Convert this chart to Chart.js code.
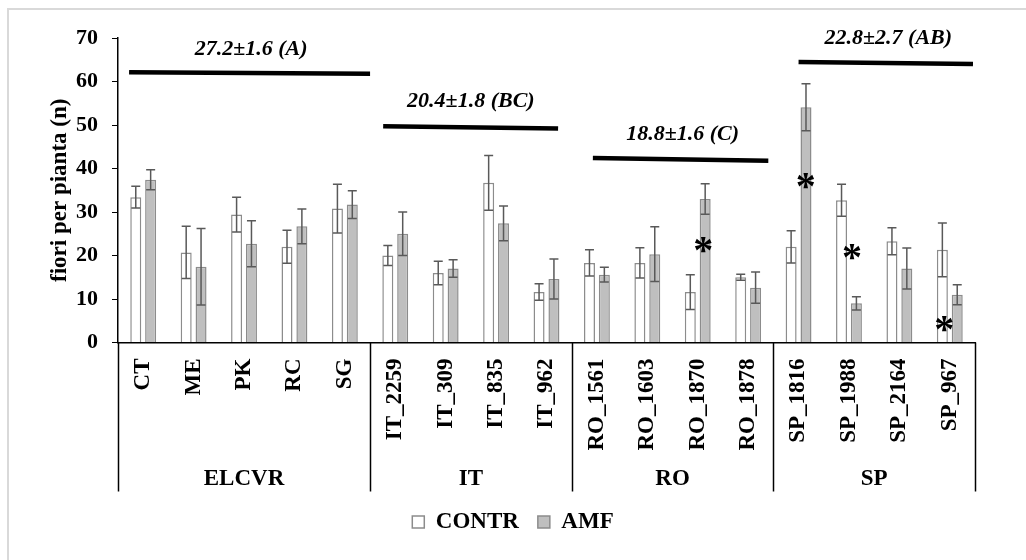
<!DOCTYPE html>
<html>
<head>
<meta charset="utf-8">
<script src="https://cdn.jsdelivr.net/npm/chart.js@4.4.1/dist/chart.umd.min.js"></script>
<style>
  body { margin: 0; background: #fff; }
  #wrap { width: 1026px; height: 560px; }
</style>
</head>
<body>
<div id="wrap"><canvas id="chart" width="1026" height="560"></canvas></div>
<script>
const categories = ['CT', 'ME', 'PK', 'RC', 'SG', 'IT_2259', 'IT_309', 'IT_835', 'IT_962',
  'RO_1561', 'RO_1603', 'RO_1870', 'RO_1878', 'SP_1816', 'SP_1988', 'SP_2164', 'SP_967'];
const contr    = [33.4, 20.7, 29.4, 22.0, 30.8, 20.0, 16.0, 36.7, 11.6, 18.3, 18.3, 11.6, 15.0, 22.0, 32.7, 23.3, 21.3];
const contrErr = [2.5, 6.0, 4.0, 3.8, 5.6, 2.3, 2.7, 6.3, 1.9, 3.0, 3.5, 4.0, 0.7, 3.7, 3.7, 3.1, 6.2];
const amf      = [37.4, 17.4, 22.7, 26.7, 31.7, 25.0, 17.0, 27.4, 14.6, 15.6, 20.3, 33.0, 12.6, 54.1, 9.0, 17.0, 11.0];
const amfErr   = [2.3, 8.8, 5.3, 4.0, 3.2, 5.0, 2.0, 4.0, 4.6, 1.7, 6.3, 3.5, 3.6, 5.4, 1.5, 4.7, 2.3];

// origin groups under the cultivar labels
const groupNames = ['ELCVR', 'IT', 'RO', 'SP'];
const groupSizes = [5, 4, 4, 4];

// mean bars over each group (x in category index units)
const meanText   = ['27.2±1.6 (A)', '20.4±1.8 (BC)', '18.8±1.6 (C)', '22.8±2.7 (AB)'];
const meanLineX0 = [-0.28, 4.76, 8.92, 13.0];
const meanLineX1 = [4.5, 8.23, 12.4, 16.46];
const meanLineY0 = [62.1, 49.7, 42.4, 64.5];
const meanLineY1 = [61.8, 49.2, 41.8, 64.0];
const meanTextX  = [2.14, 6.5, 10.7, 14.78];
const meanTextY  = [67.5, 55.4, 47.8, 70.0];

// significance stars
const starX = [11.11, 13.145, 14.06, 15.89];
const starY = [22.3, 37.1, 20.8, 4.2];

const yTicks = { min: 0, max: 70, step: 10 };

const serif = 'Liberation Serif';
Chart.defaults.font.family = serif;
Chart.defaults.color = '#000';

const extras = {
  id: 'extras',
  afterLayout(chart) {
    // legend is centred on the whole canvas, not only left of the right padding
    chart.legend.right = chart.width;
  },
  beforeDraw(chart) {
    const ctx = chart.ctx;
    ctx.save();
    ctx.strokeStyle = '#d9d9d9';
    ctx.lineWidth = 2;
    ctx.beginPath();
    ctx.moveTo(8, 560);
    ctx.lineTo(8, 9);
    ctx.lineTo(1026, 9);
    ctx.stroke();
    ctx.restore();
  },
  afterDatasetsDraw(chart) {
    const ctx = chart.ctx;
    const y = chart.scales.y;
    const x = chart.scales.x;
    ctx.save();
    // error bars
    [contrErr, amfErr].forEach((errs, d) => {
      const vals = d === 0 ? contr : amf;
      const meta = chart.getDatasetMeta(d);
      ctx.strokeStyle = '#595959';
      ctx.lineWidth = 1.5;
      meta.data.forEach((bar, i) => {
        const yt = y.getPixelForValue(vals[i] + errs[i]);
        const yb = y.getPixelForValue(vals[i] - errs[i]);
        ctx.beginPath();
        ctx.moveTo(bar.x, yt); ctx.lineTo(bar.x, yb);
        ctx.moveTo(bar.x - 4.5, yt); ctx.lineTo(bar.x + 4.5, yt);
        ctx.moveTo(bar.x - 4.5, yb); ctx.lineTo(bar.x + 4.5, yb);
        ctx.stroke();
      });
    });
    // group mean lines
    ctx.strokeStyle = '#000';
    ctx.lineWidth = 4.5;
    meanText.forEach((t, i) => {
      ctx.beginPath();
      ctx.moveTo(x.getPixelForValue(meanLineX0[i]), y.getPixelForValue(meanLineY0[i]));
      ctx.lineTo(x.getPixelForValue(meanLineX1[i]), y.getPixelForValue(meanLineY1[i]));
      ctx.stroke();
    });
    // mean labels
    ctx.fillStyle = '#000';
    ctx.font = 'italic bold 22px ' + serif;
    ctx.textAlign = 'center';
    ctx.textBaseline = 'middle';
    meanText.forEach((t, i) => {
      ctx.fillText(t, x.getPixelForValue(meanTextX[i]), y.getPixelForValue(meanTextY[i]));
    });
    // stars
    ctx.font = 'bold 40px ' + serif;
    ctx.textAlign = 'left';
    ctx.textBaseline = 'alphabetic';
    const m = ctx.measureText('*');
    starX.forEach((sx, i) => {
      const cx = x.getPixelForValue(sx);
      const cy = y.getPixelForValue(starY[i]);
      const x0 = cx - (m.actualBoundingBoxRight - m.actualBoundingBoxLeft) / 2;
      const y0 = cy + (m.actualBoundingBoxAscent - m.actualBoundingBoxDescent) / 2;
      ctx.fillText('*', x0, y0);
    });
    ctx.restore();
  },
  afterDraw(chart) {
    const ctx = chart.ctx;
    const x = chart.scales.x;
    const step = x.getPixelForValue(1) - x.getPixelForValue(0);
    const top = chart.chartArea.bottom;
    const bottom = x.bottom;
    ctx.save();
    ctx.strokeStyle = '#000';
    ctx.lineWidth = 1.5;
    ctx.fillStyle = '#000';
    ctx.font = 'bold 23px ' + serif;
    ctx.textAlign = 'center';
    ctx.textBaseline = 'middle';
    let start = 0;
    const edges = [start];
    groupSizes.forEach((n, g) => {
      const left = x.getPixelForValue(start) - step / 2;
      const right = x.getPixelForValue(start + n - 1) + step / 2;
      ctx.fillText(groupNames[g], (left + right) / 2, bottom - 12);
      start += n;
      edges.push(start);
    });
    edges.forEach(e => {
      const px = Math.round(x.getPixelForValue(e) - step / 2) + 0.5;
      ctx.beginPath();
      ctx.moveTo(px, top);
      ctx.lineTo(px, bottom);
      ctx.stroke();
    });
    ctx.restore();
  }
};

new Chart(document.getElementById('chart'), {
  type: 'bar',
  data: {
    labels: categories,
    datasets: [
      {
        label: 'CONTR',
        data: contr,
        backgroundColor: '#ffffff',
        borderColor: '#8c8c8c',
        borderWidth: 1.5
      },
      {
        label: 'AMF',
        data: amf,
        backgroundColor: '#bfbfbf',
        borderColor: '#8c8c8c',
        borderWidth: 1.5
      }
    ]
  },
  options: {
    responsive: false,
    animation: false,
    categoryPercentage: 0.59,
    barPercentage: 0.74,
    layout: { padding: { left: 0, top: 38, right: 51, bottom: 16.5 } },
    plugins: {
      legend: {
        position: 'bottom',
        labels: {
          boxWidth: 12,
          boxHeight: 12,
          padding: 19,
          font: { size: 23, weight: 'bold' }
        }
      },
      tooltip: { enabled: false }
    },
    scales: {
      x: {
        grid: { display: false, drawTicks: false },
        border: { display: true, color: '#000', width: 1.5 },
        ticks: {
          minRotation: 90,
          maxRotation: 90,
          padding: 16,
          font: { size: 23, weight: 'bold' }
        },
        afterFit: s => { s.height = 149; }
      },
      y: {
        min: yTicks.min,
        max: yTicks.max,
        grid: { display: true, drawOnChartArea: false, drawTicks: true, tickLength: 6, color: '#000' },
        border: { display: true, color: '#000', width: 1.5 },
        ticks: {
          stepSize: yTicks.step,
          padding: 14,
          font: { size: 22, weight: 'bold' }
        },
        title: {
          display: true,
          text: 'fiori per pianta (n)',
          padding: { top: 46 },
          font: { size: 23, weight: 'bold' }
        },
        afterFit: s => { s.width = 118; }
      }
    }
  },
  plugins: [extras]
});
</script>
</body>
</html>
